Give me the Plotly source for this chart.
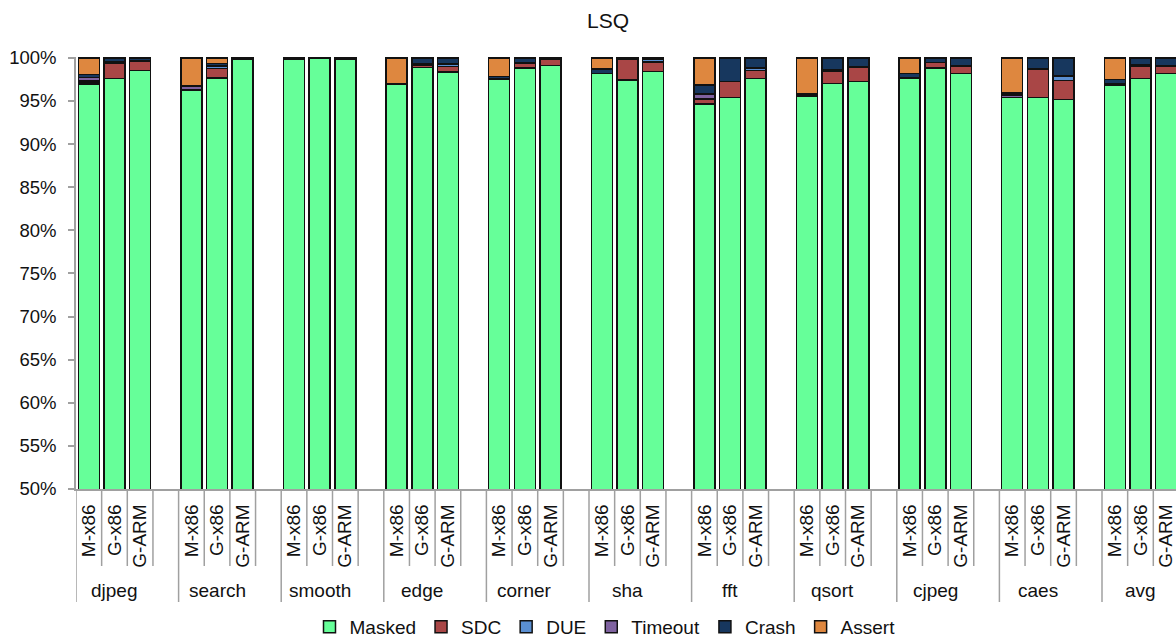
import plotly.graph_objects as go

# ---------------- data ----------------
groups = ["djpeg", "search", "smooth", "edge", "corner", "sha", "fft", "qsort", "cjpeg", "caes", "avg"]
configs = ["M-x86", "G-x86", "G-ARM"]

masked = [96.95, 97.6, 98.55, 96.3, 97.65, 99.85, 99.8, 99.95, 99.8, 96.9, 98.9, 98.35,
          97.55, 98.8, 99.1, 98.2, 97.45, 98.4, 94.65, 95.4, 97.6, 95.55, 97.05, 97.25,
          97.6, 98.8, 98.2, 95.4, 95.4, 95.2, 96.85, 97.6, 98.2]
sdc = [0.25, 1.8, 1.05, 0, 1.1, 0, 0, 0.05, 0, 0, 0.25, 0.65,
       0, 0.6, 0.7, 0, 2.35, 1.1, 0.55, 1.85, 0.95, 0, 1.35, 1.7,
       0.05, 0.65, 0.85, 0, 3.3, 2.2, 0.05, 1.45, 0.8]
due = [0.1, 0.15, 0.1, 0, 0.25, 0, 0, 0, 0, 0, 0.15, 0.3,
       0, 0.05, 0, 0, 0, 0.3, 0.05, 0, 0.3, 0, 0.2, 0,
       0, 0, 0, 0, 0, 0.5, 0, 0.1, 0.1]
timeout = [0.4, 0.05, 0, 0.45, 0.05, 0, 0, 0, 0, 0, 0, 0,
           0, 0, 0, 0, 0, 0, 0.55, 0, 0, 0, 0, 0,
           0, 0, 0, 0.3, 0, 0, 0.05, 0, 0]
crash = [0.35, 0.4, 0.3, 0, 0.3, 0.15, 0.2, 0, 0.2, 0.05, 0.7, 0.7,
         0.3, 0.55, 0.2, 0.5, 0.2, 0.2, 1.05, 2.75, 1.15, 0.25, 1.4, 1.05,
         0.55, 0.55, 0.95, 0.25, 1.3, 2.1, 0.55, 0.85, 0.9]
assert_ = [1.95, 0, 0, 3.25, 0.65, 0, 0, 0, 0, 3.05, 0, 0,
           2.15, 0, 0, 1.3, 0, 0, 3.15, 0, 0, 4.2, 0, 0,
           1.8, 0, 0, 4.05, 0, 0, 2.5, 0, 0]

series = [
    ("Masked", masked, "#66FF99"),
    ("SDC", sdc, "#A94646"),
    ("DUE", due, "#5A8FD2"),
    ("Timeout", timeout, "#7F62A0"),
    ("Crash", crash, "#17375E"),
    ("Assert", assert_, "#DE873F"),
]

y_ticks = [50, 55, 60, 65, 70, 75, 80, 85, 90, 95, 100]

# ---------------- layout constants ----------------
W, H = 1176, 637
ML, MR, MT, MB = 76, 0, 57, 148
PH = H - MT - MB
SLOTS = 4  # 3 bars + 1 empty slot per group
FONT = "Liberation Sans, Arial, sans-serif"

def py(pix):
    """pixel y -> paper y"""
    return (H - MB - pix) / PH

# bar positions (slot index)
xs = [g * SLOTS + b for g in range(len(groups)) for b in range(len(configs))]
labels = [c for _ in groups for c in configs]

fig = go.Figure()
for name, vals, col in series:
    fig.add_trace(go.Bar(
        x=xs, y=[v if v > 0 else None for v in vals], name=name,
        marker=dict(color=col, line=dict(color="#111111", width=1.5)),
        width=0.82,
    ))

shapes = []
n_groups = len(groups)
for g in range(n_groups + 1):
    x0 = g * SLOTS - 0.5
    shapes.append(dict(type="line", xref="x", yref="paper", x0=x0, x1=x0,
                       y0=0, y1=py(602), line=dict(color="#a0a0a0", width=1.5)))
    if g < n_groups:
        for k in range(3):
            xk = g * SLOTS + k + 0.5
            shapes.append(dict(type="line", xref="x", yref="paper", x0=xk, x1=xk,
                               y0=0, y1=py(566), line=dict(color="#a0a0a0", width=1.5)))

annotations = []
for g, name in enumerate(groups):
    annotations.append(dict(x=g * SLOTS + 1, y=py(590), xref="x", yref="paper",
                            text=name, showarrow=False, yanchor="middle",
                            font=dict(family=FONT, size=19, color="#111111")))

slot_px = 25.65
fig.update_layout(
    width=W, height=H,
    margin=dict(l=ML, r=MR, t=MT, b=MB, autoexpand=False),
    barmode="stack",
    plot_bgcolor="white", paper_bgcolor="white",
    title=dict(text="LSQ", x=608 / W, xanchor="center", y=1 - 21 / H, yanchor="middle",
               font=dict(family=FONT, size=21, color="#111111")),
    font=dict(family=FONT, color="#111111"),
    showlegend=True,
    legend=dict(orientation="h", xref="container", yref="container",
                x=605 / W, xanchor="center", y=1 - 627 / H, yanchor="middle",
                font=dict(family=FONT, size=19, color="#111111"),
                traceorder="normal", itemwidth=30, bgcolor="rgba(0,0,0,0)"),
    xaxis=dict(range=[-0.5, -0.5 + (W - ML - MR) / slot_px], showgrid=False, zeroline=False,
               automargin=False, ticklabeloverflow="allow",
               tickmode="array", tickvals=xs, ticktext=labels, tickangle=-90,
               ticks="", showline=True, linecolor="#a0a0a0", linewidth=1.5,
               tickfont=dict(family=FONT, size=19, color="#111111"),
               ticklabelstandoff=6),
    yaxis=dict(range=[50, 100.1], tickmode="array", tickvals=y_ticks, automargin=False,
               ticktext=[f"{v}%" for v in y_ticks], showgrid=False, zeroline=False,
               showline=True, linecolor="#a0a0a0", linewidth=1.5,
               ticks="outside", ticklen=6, tickcolor="#a0a0a0", tickwidth=1.5,
               ticklabelstandoff=8,
               tickfont=dict(family=FONT, size=18.5, color="#111111")),
    shapes=shapes, annotations=annotations,
)

fig.write_html("out.html", config={"displayModeBar": False},
               post_script="document.body.style.margin='0px';document.body.style.overflow='hidden';")
